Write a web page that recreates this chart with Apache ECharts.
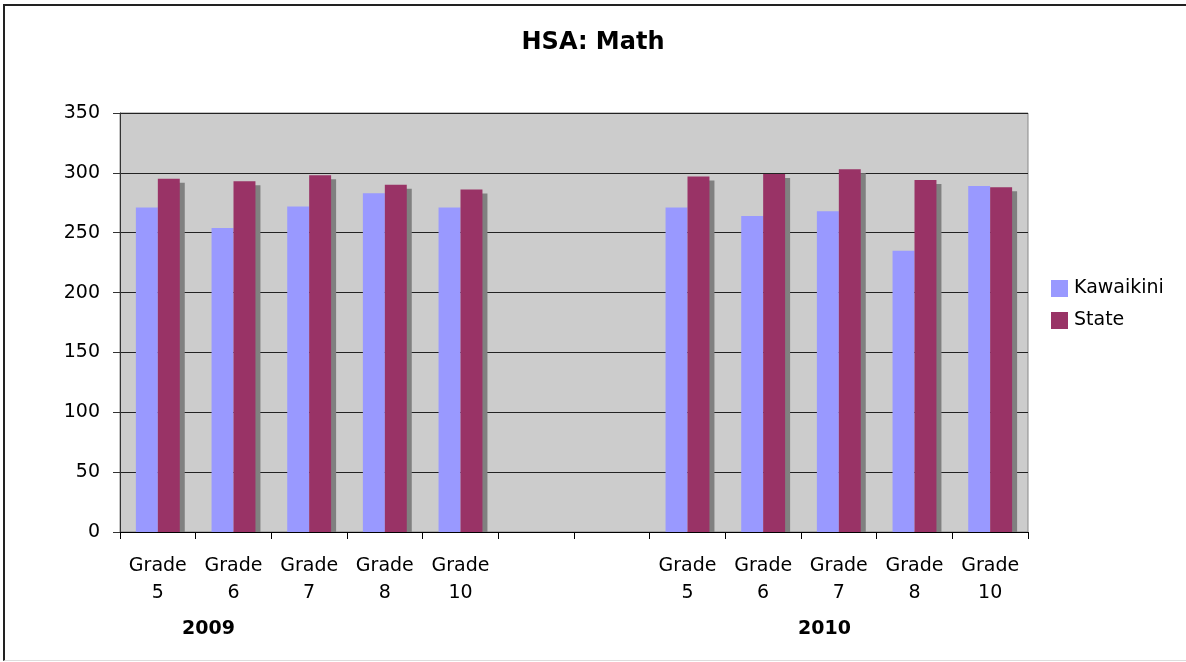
<!DOCTYPE html>
<html>
<head>
<meta charset="utf-8">
<script src="https://cdn.jsdelivr.net/npm/echarts@6/dist/echarts.min.js"></script>
<style>
  html, body { margin: 0; padding: 0; background: #fff; }
  #frame { position: absolute; left: 3px; top: 4px; width: 1190px; height: 654px;
           border-top: 2px solid #222; border-left: 2px solid #222; border-bottom: 1px solid #ddd; }
  #chart { position: absolute; left: 0; top: 0; width: 1186px; height: 662px; }
</style>
</head>
<body>
<div id="frame"></div>
<div id="chart"></div>
<script>
const categories = ['Grade\n5', 'Grade\n6', 'Grade\n7', 'Grade\n8', 'Grade\n10', '', '',
                    'Grade\n5', 'Grade\n6', 'Grade\n7', 'Grade\n8', 'Grade\n10'];
const kawaikini = [271, 254, 272, 283, 271, null, null, 271, 264, 268, 235, 289];
const state     = [295, 293, 298, 290, 286, null, null, 297, 299, 303, 294, 288];
const yearLabels = ['2009', '2010'];
const yTicks = [0, 50, 100, 150, 200, 250, 300, 350];

const FONT = 'DejaVu Sans';
const chart = echarts.init(document.getElementById('chart'), null, { renderer: 'canvas' });

const shadowData = state.map((v, i) => v == null ? null : [i, v]).filter(d => d);

chart.setOption({
  backgroundColor: 'transparent',
  animation: false,
  title: {
    text: 'HSA: Math',
    left: 'center',
    top: 26,
    textStyle: { fontFamily: FONT, fontSize: 24, fontWeight: 'bold', color: '#000' }
  },
  legend: {
    orient: 'vertical',
    left: 1051,
    top: 279,
    padding: 0,
    itemWidth: 17,
    itemHeight: 17,
    itemGap: 13,
    icon: 'rect',
    data: ['Kawaikini', 'State'],
    textStyle: { fontFamily: FONT, fontSize: 19, color: '#000', padding: [0, 0, 0, 1] }
  },
  grid: {
    left: 120, top: 113, width: 908, height: 419,
    show: true, backgroundColor: '#CCCCCC', borderColor: '#888', borderWidth: 1
  },
  xAxis: {
    type: 'category',
    data: categories,
    boundaryGap: true,
    axisLine: { lineStyle: { color: '#000', width: 1 } },
    axisTick: { show: true, length: 7, lineStyle: { color: '#000' }, interval: 0 },
    axisLabel: {
      interval: 0, margin: 21, fontFamily: FONT, fontSize: 19, color: '#000', lineHeight: 27
    }
  },
  yAxis: {
    type: 'value',
    min: 0, max: 350, interval: 50,
    axisLine: { show: true, lineStyle: { color: '#333', width: 1 } },
    axisTick: { show: true, length: 7, lineStyle: { color: '#333' } },
    axisLabel: {
      margin: 20, fontFamily: FONT, fontSize: 19, color: '#000',
      formatter: v => yTicks.includes(v) ? String(v) : ''
    },
    splitLine: { show: true, lineStyle: { color: '#222', width: 1 } }
  },
  graphic: [
    { type: 'text', left: 212 - 30, top: 620, style: { text: yearLabels[0], fontFamily: FONT, fontSize: 19, fontWeight: 'bold', fill: '#000', width: 60, align: 'center' } },
    { type: 'text', left: 828 - 30, top: 620, style: { text: yearLabels[1], fontFamily: FONT, fontSize: 19, fontWeight: 'bold', fill: '#000', width: 60, align: 'center' } }
  ],
  series: [
    {
      name: 'shadow',
      type: 'custom',
      silent: true,
      data: shadowData,
      z: 1,
      renderItem: function (params, api) {
        const idx = api.value(0), v = api.value(1);
        const top = api.coord([idx, v]);
        const base = api.coord([idx, 0]);
        const bw = api.size([1, 0])[0] * 0.29;
        return {
          type: 'rect',
          shape: { x: top[0] + 5, y: top[1] + 4, width: bw, height: base[1] - top[1] - 4 },
          style: { fill: '#808080' }
        };
      }
    },
    {
      name: 'Kawaikini',
      type: 'bar',
      data: kawaikini,
      barWidth: '29%',
      barGap: '0%',
      z: 2,
      itemStyle: { color: '#9999FF' }
    },
    {
      name: 'State',
      type: 'bar',
      data: state,
      barWidth: '29%',
      barGap: '0%',
      z: 2,
      itemStyle: { color: '#993366' }
    }
  ]
});
</script>
</body>
</html>
